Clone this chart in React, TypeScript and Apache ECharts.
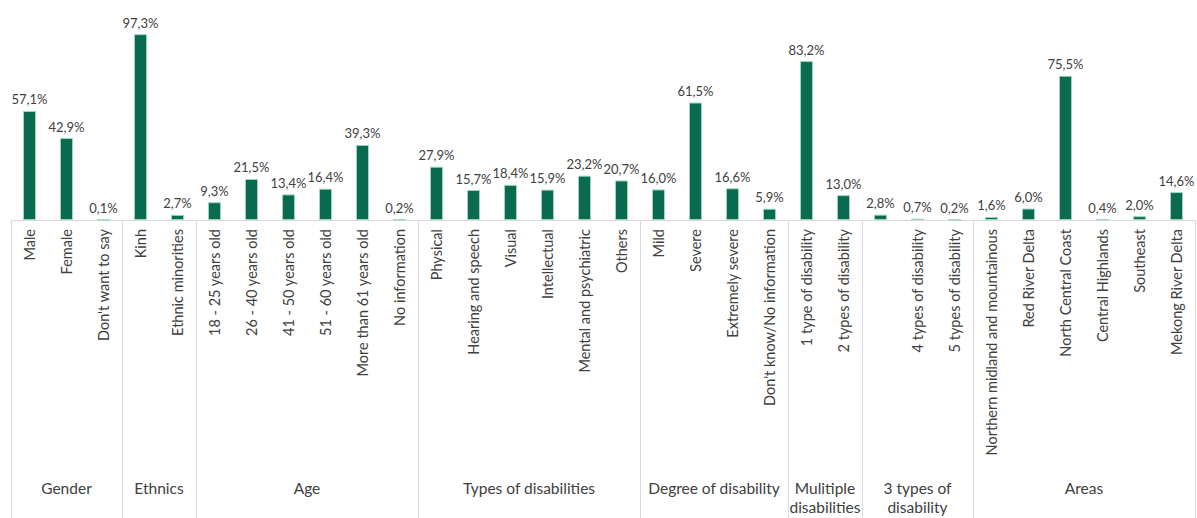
import React, { useEffect, useRef } from "react";
import * as echarts from "echarts";

const categories: string[] = [
  "Male", "Female", "Don't want to say",
  "Kinh", "Ethnic minorities",
  "18 - 25 years old", "26 - 40 years old", "41 - 50 years old", "51 - 60 years old", "More than 61 years old", "No information",
  "Physical", "Hearing and speech", "Visual", "Intellectual", "Mental and psychiatric", "Others",
  "Mild", "Severe", "Extremely severe", "Don't know/No information",
  "1 type of disability", "2 types of disability",
  "", "4 types of disability", "5 types of disability",
  "Northern midland and mountainous", "Red River Delta", "North Central Coast", "Central Highlands", "Southeast", "Mekong River Delta",
];

const values: number[] = [
  57.1, 42.9, 0.1,
  97.3, 2.7,
  9.3, 21.5, 13.4, 16.4, 39.3, 0.2,
  27.9, 15.7, 18.4, 15.9, 23.2, 20.7,
  16.0, 61.5, 16.6, 5.9,
  83.2, 13.0,
  2.8, 0.7, 0.2,
  1.6, 6.0, 75.5, 0.4, 2.0, 14.6,
];

const groupNames: string[] = [
  "Gender", "Ethnics", "Age", "Types of disabilities", "Degree of disability",
  "Mulitiple\ndisabilities", "3 types of\ndisability", "Areas",
];
const groupSizes: number[] = [3, 2, 6, 6, 4, 2, 3, 6];

const FONT = "Lato, 'Open Sans', sans-serif";
const TEXT = "#404040";

export default function App() {
  const ref = useRef<HTMLDivElement>(null);
  useEffect(() => {
    if (!ref.current) return;
    const chart = echarts.init(ref.current, null, { renderer: "svg" });
    chart.setOption({
      animation: false,
      grid: { left: 11, right: 2, top: 29, bottom: 298, containLabel: false },
      xAxis: {
        type: "category",
        data: categories,
        axisLine: { show: true, lineStyle: { color: "#d9d9d9", width: 1 } },
        axisTick: { show: false },
        axisLabel: {
          interval: 0,
          rotate: 90,
          margin: 9,
          color: TEXT,
          fontSize: 14.5,
          fontFamily: FONT,
        },
      },
      yAxis: { type: "value", min: 0, max: 100, show: false, splitLine: { show: false } },
      series: [
        {
          type: "bar",
          data: values,
          barWidth: 13,
          itemStyle: { color: "#0a6a4f", borderColor: "#9fd4c0", borderWidth: 1 },
          label: {
            show: true,
            position: "top",
            distance: 5,
            color: TEXT,
            fontSize: 13,
            fontFamily: FONT,
            formatter: (p: any) => p.value.toFixed(1).replace(".", ",") + "%",
          },
        },
      ],
    });

    const px = (i: number) => chart.convertToPixel({ xAxisIndex: 0 }, i) as number;
    const band = px(1) - px(0);
    const axisY = chart.convertToPixel({ yAxisIndex: 0 }, 0) as number;
    const bottom = chart.getHeight();
    const elements: any[] = [];
    let start = 0;
    const edges: number[] = [px(0) - band / 2];
    groupSizes.forEach((size, g) => {
      const left = px(start) - band / 2;
      const right = px(start + size - 1) + band / 2;
      edges.push(right);
      elements.push({
        type: "text",
        silent: true,
        style: {
          text: groupNames[g],
          x: (left + right) / 2,
          y: 478,
          align: "center",
          verticalAlign: "top",
          fill: TEXT,
          fontSize: 15.5,
          fontFamily: FONT,
          lineHeight: 19,
        },
      });
      start += size;
    });
    edges.forEach((x) => {
      elements.push({
        type: "line",
        silent: true,
        shape: { x1: Math.round(x) + 0.5, y1: axisY, x2: Math.round(x) + 0.5, y2: bottom },
        style: { stroke: "#d9d9d9", lineWidth: 1 },
      });
    });
    chart.setOption({ graphic: elements });

    return () => chart.dispose();
  }, []);
  return (
    <div style={{ position: "fixed", left: 0, top: 0, width: 1197, height: 518, background: "#fff" }}>
      <div ref={ref} style={{ width: 1197, height: 518 }} />
    </div>
  );
}
